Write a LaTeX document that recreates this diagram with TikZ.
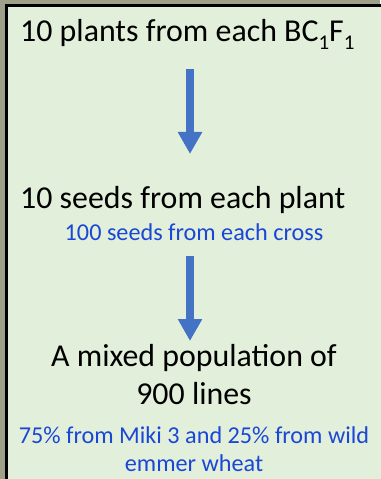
\documentclass[tikz,border=0pt]{standalone}
\usepackage{fontspec}
\setmainfont{Carlito}
\usetikzlibrary{arrows.meta}
\definecolor{outbg}{HTML}{9EA08A}
\definecolor{boxbg}{HTML}{E2EFDA}
\definecolor{arrowblue}{HTML}{4472C4}
\definecolor{textblue}{HTML}{1A47D6}
\tikzset{
  bigtext/.style={inner sep=0pt, font=\fontsize{32}{38}\selectfont, text=black},
  smalltext/.style={inner sep=0pt, font=\fontsize{24.3}{28}\selectfont, text=textblue},
  blockarrow/.style={line width=8bp, draw=arrowblue, -{Triangle[width=23bp,length=22bp]}}
}
\newcommand{\subone}{\raisebox{-0.22em}{\fontsize{21}{24}\selectfont 1}}
\begin{document}
\begin{tikzpicture}[x=1bp,y=-1bp]
\useasboundingbox (0,0) rectangle (380,479);
\fill[outbg] (0,0) rectangle (380,479);
\draw[line width=3bp, fill=boxbg] (6.5,5.5) rectangle (392,492);
\node[bigtext, anchor=base west] (t1) at (20,42) {10 plants from each BC\subone F\subone};
\coordinate (a1s) at (190,69);
\coordinate (a1e) at (190,154);
\draw[blockarrow] (a1s) -- (a1e);
\node[bigtext, anchor=base west] (t2) at (20,208) {10 seeds from each plant};
\node[smalltext, anchor=base] (s2) at (194,240) {100 seeds from each cross};
\coordinate (a2s) at (190,256);
\coordinate (a2e) at (190,341);
\draw[blockarrow] (a2s) -- (a2e);
\node[bigtext, anchor=base] (t3a) at (194,366) {A mixed population of};
\node[bigtext, anchor=base] (t3b) at (194,404) {900 lines};
\node[smalltext, anchor=base] (s3a) at (194,443) {75\% from Miki 3 and 25\% from wild};
\node[smalltext, anchor=base] (s3b) at (194,471) {emmer wheat};
\end{tikzpicture}
\end{document}
